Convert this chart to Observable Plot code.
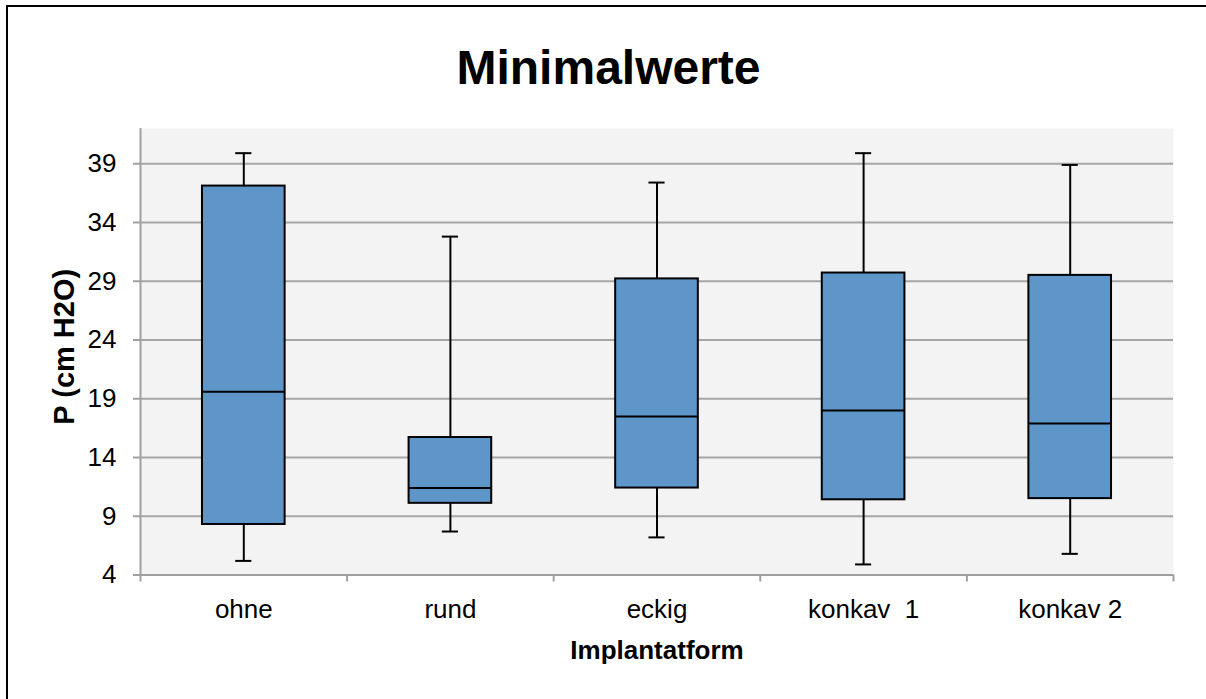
<!DOCTYPE html>
<html><head><meta charset="utf-8">
<script src="https://cdn.jsdelivr.net/npm/d3@7"></script>
<script src="https://cdn.jsdelivr.net/npm/@observablehq/plot@0.6"></script>
<style>
html,body{margin:0;padding:0;background:#fff;overflow:hidden;width:1206px;height:699px}
#chart{position:absolute;left:0;top:0}
#frame{position:absolute;left:6px;top:5px;width:1400px;height:900px;border:2px solid #000;box-sizing:border-box;pointer-events:none}
svg text{white-space:pre}
</style></head><body>
<div id="chart"></div><div id="frame"></div>
<script>
const categories = ["ohne", "rund", "eckig", "konkav  1", "konkav 2"];
const minValues = [5.2, 7.7, 7.2, 4.9, 5.8];
const q1Values = [8.3, 10.1, 11.4, 10.4, 10.5];
const medianValues = [19.6, 11.4, 17.5, 18.0, 16.9];
const q3Values = [37.1, 15.7, 29.2, 29.7, 29.5];
const maxValues = [39.9, 32.8, 37.4, 39.9, 38.9];
const yTicks = [4, 9, 14, 19, 24, 29, 34, 39];
const title = "Minimalwerte";
const xTitle = "Implantatform";
const yTitle = "P (cm H2O)";

const rows = categories.map((c, i) => ({
  cat: c, pos: i + 0.5,
  min: minValues[i], q1: q1Values[i], med: medianValues[i], q3: q3Values[i], max: maxValues[i]
}));
const boundaries = d3.range(categories.length + 1);
const centers = categories.map((c, i) => i + 0.5);

const boxFill = "#5F96CA";
const gridColor = "#A6A6A6";
const axisColor = "#A0A0A0";

const chart = Plot.plot({
  width: 1206, height: 699,
  marginLeft: 140, marginRight: 33, marginTop: 128, marginBottom: 124.5,
  x: {domain: [0, categories.length]},
  y: {domain: [4, 42]},
  style: {fontFamily: "'Liberation Sans', Arial, sans-serif", fontSize: "26px", color: "#000", background: "#fff"},
  marks: [
    Plot.frame({fill: "#F3F3F3", stroke: null}),
    Plot.ruleY(yTicks.slice(1), {stroke: gridColor, strokeWidth: 2}),
    Plot.ruleY([4], {stroke: axisColor, strokeWidth: 2}),
    Plot.ruleX([0], {stroke: axisColor, strokeWidth: 2}),
    Plot.axisY({ticks: yTicks, tickSize: 7, tickPadding: 17, stroke: axisColor, strokeWidth: 2, label: null, fontSize: 26}),
    Plot.axisX({ticks: boundaries, tickSize: 7, tickFormat: () => "", stroke: axisColor, strokeWidth: 2, label: null}),
    Plot.axisX({ticks: centers, tickSize: 0, tickPadding: 25, tickFormat: d => categories[Math.floor(d)], label: null, fontSize: 26}),
    // whiskers
    Plot.ruleX(rows, {x: "pos", y1: "q3", y2: "max", stroke: "#000", strokeWidth: 2}),
    Plot.ruleX(rows, {x: "pos", y1: "min", y2: "q1", stroke: "#000", strokeWidth: 2}),
    Plot.ruleY(rows, {y: "max", x1: d => d.pos - 0.039, x2: d => d.pos + 0.039, stroke: "#000", strokeWidth: 2}),
    Plot.ruleY(rows, {y: "min", x1: d => d.pos - 0.039, x2: d => d.pos + 0.039, stroke: "#000", strokeWidth: 2}),
    // boxes
    Plot.rect(rows, {x1: d => d.pos - 0.2, x2: d => d.pos + 0.2, y1: "q1", y2: "q3", fill: boxFill, stroke: "#000", strokeWidth: 2}),
    Plot.ruleY(rows, {y: "med", x1: d => d.pos - 0.2, x2: d => d.pos + 0.2, stroke: "#000", strokeWidth: 2}),
    // titles
    Plot.text([title], {frameAnchor: "top", textAnchor: "middle", dx: -48.5, dy: -79, fontSize: 48, fontWeight: "bold", fill: "#000"}),
    Plot.text([xTitle], {frameAnchor: "bottom", textAnchor: "middle", dy: 84, fontSize: 26, fontWeight: "bold", fill: "#000"}),
    Plot.text([yTitle], {frameAnchor: "left", textAnchor: "middle", lineAnchor: "middle", dx: -76, dy: -5, rotate: -90, fontSize: 29, fontWeight: "bold", fill: "#000"})
  ]
});
document.getElementById("chart").appendChild(chart);
</script>
</body></html>
